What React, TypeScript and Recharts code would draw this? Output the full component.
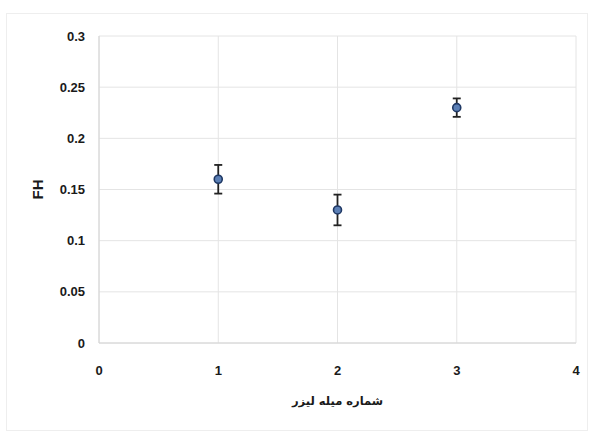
import React from "react";
import {
  ScatterChart,
  Scatter,
  XAxis,
  YAxis,
  CartesianGrid,
  ErrorBar,
} from "recharts";

// Laser rod number vs. FH, with measurement uncertainty
const rodNumbers = [1, 2, 3];
const fhValues = [0.16, 0.13, 0.23];
const fhErrors = [0.014, 0.015, 0.009];

const xTicks = [0, 1, 2, 3, 4];
const yTicks = [0, 0.05, 0.1, 0.15, 0.2, 0.25, 0.3];

const data = rodNumbers.map((x, i) => ({ x, y: fhValues[i], err: fhErrors[i] }));

const tickStyle = {
  fontFamily: "'Liberation Sans', Arial, sans-serif",
  fontWeight: 700,
  fontSize: 13,
  fill: "#1a1a1a",
};

const Marker = (props: any) => {
  const { cx, cy } = props;
  return (
    <circle cx={cx} cy={cy} r={4} fill="#5b7fb5" stroke="#1f3864" strokeWidth={1.6} />
  );
};

export default function App() {
  return (
    <div style={{ position: "absolute", left: 0, top: 0, width: 596, height: 437, background: "#fff" }}>
      <div
        style={{
          position: "absolute",
          left: 6,
          top: 13,
          width: 582,
          height: 418,
          border: "1px solid #eeeeee",
          boxSizing: "border-box",
        }}
      />
      <ScatterChart
        width={596}
        height={437}
        margin={{ top: 36, right: 20, bottom: 0, left: 0 }}
        style={{ position: "absolute", left: 0, top: 0 }}
      >
        <CartesianGrid stroke="#e4e4e4" strokeWidth={1} />
        <XAxis
          type="number"
          dataKey="x"
          domain={[0, 4]}
          ticks={xTicks}
          height={94}
          tickLine={false}
          axisLine={{ stroke: "#d4d4d4" }}
          tick={tickStyle}
          tickMargin={17}
          label={{
            value: "شماره میله لیزر",
            position: "insideTop",
            offset: 54,
            style: {
              fontFamily: "'DejaVu Sans', sans-serif",
              fontWeight: 700,
              fontSize: 11.5,
              fill: "#1a1a1a",
            },
          }}
        />
        <YAxis
          type="number"
          dataKey="y"
          domain={[0, 0.3]}
          ticks={yTicks}
          width={99}
          tickLine={false}
          axisLine={{ stroke: "#d4d4d4" }}
          tick={tickStyle}
          tickMargin={8}
          label={{
            value: "FH",
            angle: -90,
            position: "insideLeft",
            offset: 38,
            style: {
              fontFamily: "'Liberation Sans', Arial, sans-serif",
              fontWeight: 700,
              fontSize: 15,
              fill: "#1a1a1a",
              textAnchor: "middle",
            },
          }}
        />
        <Scatter data={data} shape={<Marker />} isAnimationActive={false}>
          <ErrorBar
            dataKey="err"
            direction="y"
            width={4}
            stroke="#222"
            strokeWidth={1.8}
            isAnimationActive={false}
          />
        </Scatter>
      </ScatterChart>
    </div>
  );
}
